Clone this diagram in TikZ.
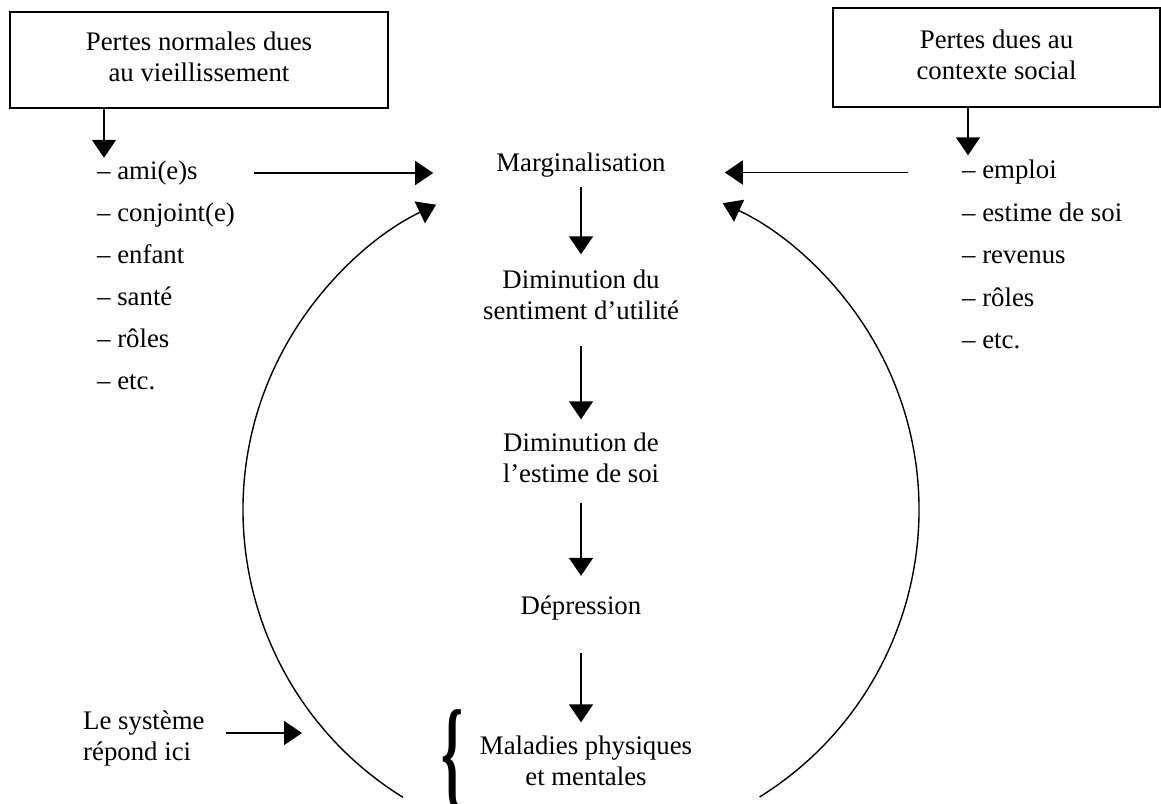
\documentclass[tikz,border=0pt]{standalone}
\usepackage{fontspec}
\setmainfont{Liberation Serif}
\usetikzlibrary{arrows.meta}
\begin{document}
\begin{tikzpicture}[>={Triangle[length=18pt,width=24pt]},x=1pt,y=-1pt,
        every node/.style={font=\fontsize{26.8}{31}\selectfont,inner sep=0pt},
        ligne/.style={text height=18pt,text depth=6pt},
        deux/.style={text height=49pt,text depth=6pt},
        boite/.style={draw,deux,line width=1.8pt,minimum width=378pt,minimum height=96pt,align=center},
        etape/.style={deux,align=center},
        liste/.style={ligne,anchor=west},
        fleche/.style={->,line width=1.8pt},
        cycle/.style={->,line width=1.4pt}]
        \useasboundingbox (0,0) rectangle (1161,803);
        \node[boite] (pertesA) at (199,60) {Pertes normales dues\\au vieillissement};
        \node[boite,minimum width=327pt,minimum height=99pt] (pertesB) at (996.5,57.5) {Pertes dues au\\contexte social};
        \foreach \mot [count=\i] in {ami(e)s,conjoint(e),enfant,santé,rôles,etc.}
                \node[liste] (g\i) at (97,{131+42*\i}) {-- \mot};
        \foreach \mot [count=\i] in {emploi,estime de soi,revenus,rôles,etc.}
                \node[liste] (d\i) at (962,{130+42.5*\i}) {-- \mot};
        \node[ligne] (marg) at (581,165) {Marginalisation};
        \node[etape] (dimA) at (581,298) {Diminution du\\sentiment d'utilité};
        \node[etape] (dimB) at (581,461) {Diminution de\\l'estime de soi};
        \node[ligne] (depr) at (581,608) {Dépression};
        \node[etape] (mal) at (586,764) {Maladies physiques\\et mentales};
        \node (acc) at (452,760) {\resizebox*{22pt}{100pt}{\bfseries\{}};
        \node[deux,align=left,anchor=west] (sys) at (83,739) {Le système\\répond ici};
        \coordinate (ici) at (302,733);
        \coordinate (ctr) at (581,510);
        \draw[fleche,shorten >=3pt] ([xshift=7pt]pertesA.south -| g1.west) -- ([xshift=7pt]g1.north west);
        \draw[fleche,shorten >=5pt] ([xshift=6pt]pertesB.south -| d1.west) -- ([xshift=6pt]d1.north west);
        \draw[fleche,shorten <=56pt,shorten >=63pt] (g1.east) -- (g1.east -| marg.west);
        \draw[fleche,shorten <=54pt,shorten >=59pt] (d1.west) -- (d1.west -| marg.east);
        \draw[fleche,shorten <=10pt,shorten >=16pt] (marg) -- (dimA);
        \draw[fleche,shorten <=20pt,shorten >=14pt] (dimA) -- (dimB);
        \draw[fleche,shorten <=14pt,shorten >=20pt] (dimB) -- (depr);
        \draw[fleche,shorten <=33pt,shorten >=14pt] (depr) -- (depr |- mal.north);
        \draw[fleche,shorten <=21pt] (sys.east |- ici) -- (ici);
        \draw[cycle] ([shift={(238.2:338pt)}]ctr) arc[start angle=238.2,end angle=115.4,radius=338pt];
        \draw[cycle] ([shift={(-58.1:338pt)}]ctr) arc[start angle=-58.1,end angle=65.2,radius=338pt];
\end{tikzpicture}
\end{document}
